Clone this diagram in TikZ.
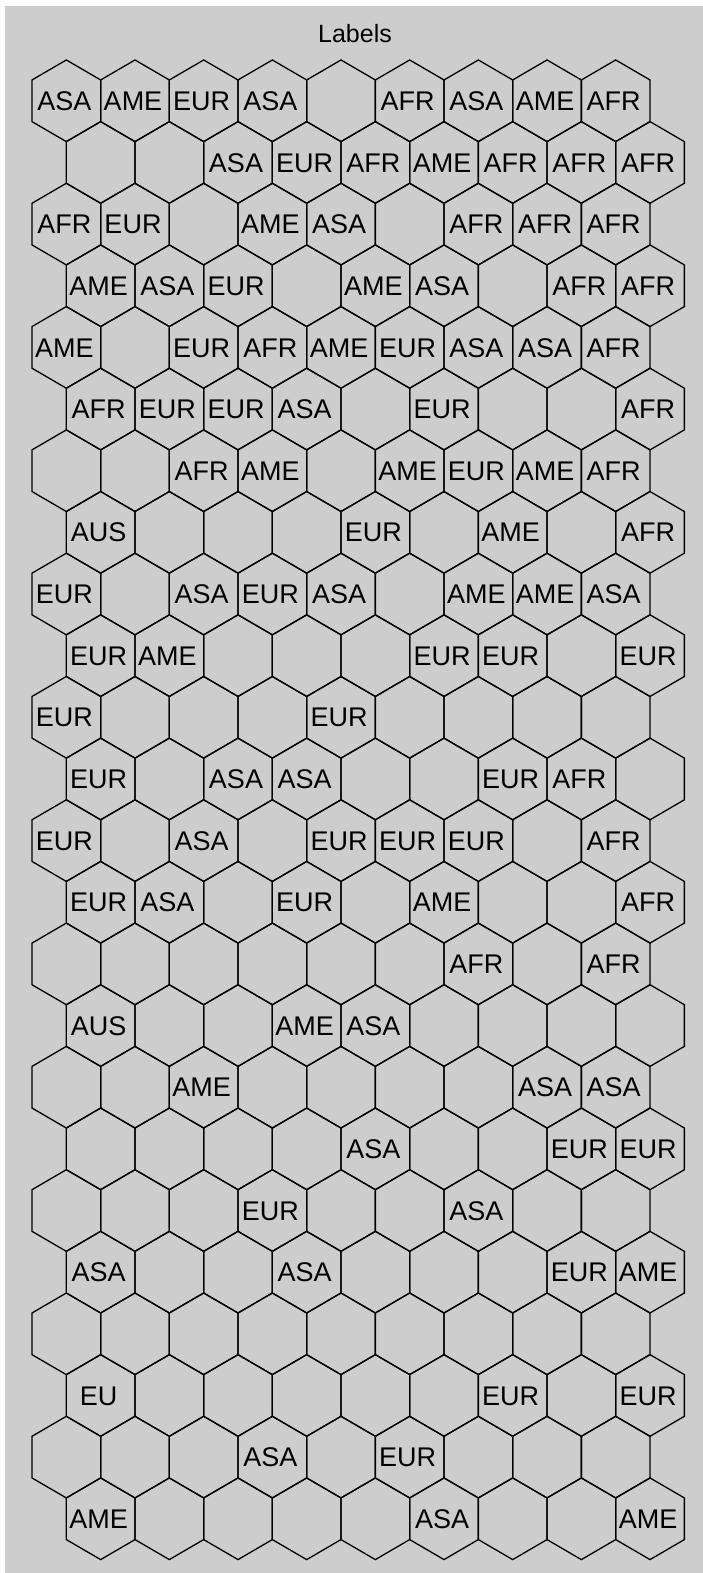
\documentclass[tikz,border=0pt]{standalone}
\usepackage{fontspec}
\setmainfont{Liberation Sans}
\definecolor{panelgray}{RGB}{205,205,205}
\tikzset{
  hexline/.style={draw=black, line width=1.3pt},
  lbl/.style={anchor=base, inner sep=0pt, font=\fontsize{27}{30}\selectfont},
  ttl/.style={anchor=base, inner sep=0pt, font=\fontsize{25}{28}\selectfont}
}
\begin{document}
\begin{tikzpicture}[x=1pt,y=-1pt]
\useasboundingbox (0,0) rectangle (703,1573);
\fill[white] (0,0) rectangle (703,1573);
\fill[panelgray] (5,6) rectangle (703,1573);
\node[ttl] (title) at (355,42.3) {Labels};
\foreach \r in {0,...,23}{
  \foreach \c in {0,...,8}{
    \pgfmathsetmacro\cx{66.33+68.67*\c+34.33*mod(\r,2)}
    \pgfmathsetmacro\cy{100.8+61.65*\r}
    \coordinate (h\r-\c) at (\cx,\cy);
    \draw[hexline] (\cx,\cy-40.83) -- ++(34.33,20) -- ++(0,41.66) -- ++(-34.33,20)
      -- ++(-34.33,-20) -- ++(0,-41.66) -- cycle;
  }
}
\foreach \r/\c/\t in {
 0/0/ASA,0/1/AME,0/2/EUR,0/3/ASA,0/5/AFR,0/6/ASA,0/7/AME,0/8/AFR,
 1/2/ASA,1/3/EUR,1/4/AFR,1/5/AME,1/6/AFR,1/7/AFR,1/8/AFR,
 2/0/AFR,2/1/EUR,2/3/AME,2/4/ASA,2/6/AFR,2/7/AFR,2/8/AFR,
 3/0/AME,3/1/ASA,3/2/EUR,3/4/AME,3/5/ASA,3/7/AFR,3/8/AFR,
 4/0/AME,4/2/EUR,4/3/AFR,4/4/AME,4/5/EUR,4/6/ASA,4/7/ASA,4/8/AFR,
 5/0/AFR,5/1/EUR,5/2/EUR,5/3/ASA,5/5/EUR,5/8/AFR,
 6/2/AFR,6/3/AME,6/5/AME,6/6/EUR,6/7/AME,6/8/AFR,
 7/0/AUS,7/4/EUR,7/6/AME,7/8/AFR,
 8/0/EUR,8/2/ASA,8/3/EUR,8/4/ASA,8/6/AME,8/7/AME,8/8/ASA,
 9/0/EUR,9/1/AME,9/5/EUR,9/6/EUR,9/8/EUR,
 10/0/EUR,10/4/EUR,
 11/0/EUR,11/2/ASA,11/3/ASA,11/6/EUR,11/7/AFR,
 12/0/EUR,12/2/ASA,12/4/EUR,12/5/EUR,12/6/EUR,12/8/AFR,
 13/0/EUR,13/1/ASA,13/3/EUR,13/5/AME,13/8/AFR,
 14/6/AFR,14/8/AFR,
 15/0/AUS,15/3/AME,15/4/ASA,
 16/2/AME,16/7/ASA,16/8/ASA,
 17/4/ASA,17/7/EUR,17/8/EUR,
 18/3/EUR,18/6/ASA,
 19/0/ASA,19/3/ASA,19/7/EUR,19/8/AME,
 21/0/EU,21/6/EUR,21/8/EUR,
 22/3/ASA,22/5/EUR,
 23/0/AME,23/5/ASA,23/8/AME}{
  \pgfmathsetmacro\cx{66.33+68.67*\c+34.33*mod(\r,2)}
  \pgfmathsetmacro\cy{100.8+61.65*\r}
  \node[lbl] (l\r-\c) at (\cx-2,\cy+9.6) {\t};
}
\end{tikzpicture}
\end{document}
